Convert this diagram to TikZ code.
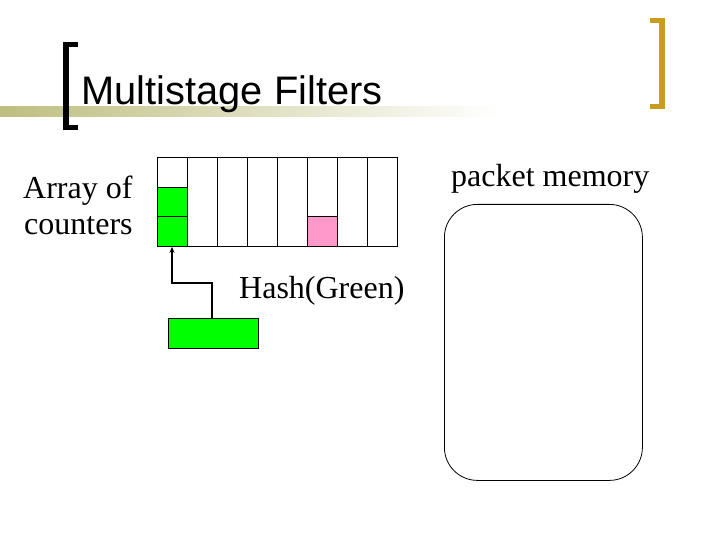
\documentclass[tikz,border=0pt]{standalone}
\usepackage{fontspec}
\setmainfont{Liberation Serif}
\newfontfamily\titlefont{Liberation Sans}
\usetikzlibrary{arrows.meta}
\definecolor{bandolive}{HTML}{BEBE80}
\definecolor{brgold}{HTML}{C99C1E}
\definecolor{cellgreen}{HTML}{00FF00}
\definecolor{cellpink}{HTML}{FF99CC}
\begin{document}
\begin{tikzpicture}[x=1pt,y=-1pt,
  lbl/.style={inner sep=0pt,anchor=base west,font=\fontsize{32}{36}\selectfont},
  cellbox/.style={draw=black,line width=0.8pt,minimum width=30pt,minimum height=29.5pt,inner sep=0pt,anchor=north west},
  colbox/.style={draw=black,line width=0.8pt,minimum width=30pt,minimum height=89pt,inner sep=0pt,anchor=north west}]
\useasboundingbox (0,0) rectangle (720,540);
\fill[white] (0,0) rectangle (720,540);
% title band
\shade[left color=bandolive,right color=white] (0,107) rectangle (500,117);
% black bracket
\fill[black] (63,42) rectangle (69,130);
\fill[black] (63,42) rectangle (78,47);
\fill[black] (63,125) rectangle (78,130);
% gold bracket
\fill[brgold] (659,18) rectangle (665,109);
\fill[brgold] (650,18) rectangle (665,23);
\fill[brgold] (650,104) rectangle (665,109);
% title
\node[inner sep=0pt,anchor=base west,font=\titlefont\fontsize{39.8}{44}\selectfont] (title) at (81.5,105) {Multistage Filters};
% labels
\node[lbl] (arr1) at (23,199) {Array of};
\node[lbl] (arr2) at (24,235) {counters};
\node[lbl] (pm) at (451,187) {packet memory};
\node[lbl] (hash) at (239,298) {Hash(Green)};
% counter columns
\foreach \i in {0,...,7} {
  \node[colbox] (c\i) at (157+30*\i,157) {};
}
\node[cellbox,fill=cellgreen] (g1) at (157,187) {};
\node[cellbox,fill=cellgreen] (g2) at (157,216.5) {};
\node[cellbox,fill=cellpink] (p1) at (307,216.5) {};
% green packet
\node[draw=black,line width=0.6pt,fill=cellgreen,minimum width=90pt,minimum height=30pt,inner sep=0pt,anchor=north west] (pkt) at (168,318) {};
\coordinate (bend1) at (212,283);
\coordinate (bend2) at (172,283);
\draw[line width=1.6pt,-{Stealth[length=6pt,width=5pt]}] (pkt.north -| bend1) -- (bend1) -- (bend2) -- (bend2 |- g2.south);
% packet memory
\node[draw=black,line width=0.8pt,rounded corners=33pt,minimum width=198pt,minimum height=276pt,inner sep=0pt,anchor=north west] (mem) at (444,204) {};
\end{tikzpicture}
\end{document}
